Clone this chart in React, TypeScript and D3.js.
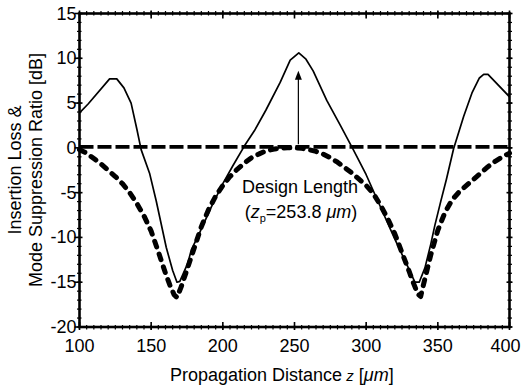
import React from 'react';
import * as d3 from 'd3';

// insertion loss (thick dashed curve)
const zLoss = [100, 105, 110, 115, 120, 125, 130, 135, 140, 145, 150, 155, 160, 163, 166, 168, 171, 175, 180, 185, 190, 195, 200, 205, 210, 215, 220, 225, 230, 235, 240, 245, 250, 255, 260, 265, 270, 275, 280, 285, 290, 295, 300, 305, 310, 315, 320, 325, 330, 333, 336, 338, 341, 345, 350, 355, 360, 365, 370, 375, 380, 385, 390, 395, 400];
const lossDb = [-0.2, -0.6, -1.2, -1.8, -2.5, -3.2, -4.0, -5.0, -6.2, -7.6, -9.3, -11.6, -14.0, -15.3, -16.4, -16.7, -15.5, -13.6, -11.2, -8.8, -6.9, -5.4, -4.2, -3.2, -2.4, -1.7, -1.1, -0.7, -0.35, -0.15, -0.05, 0, 0, -0.05, -0.2, -0.4, -0.7, -1.1, -1.6, -2.2, -2.8, -3.5, -4.2, -5.1, -6.4, -7.9, -9.6, -11.7, -13.8, -15.1, -16.3, -16.6, -14.6, -12.0, -9.2, -7.2, -5.8, -4.9, -4.2, -3.5, -2.8, -2.1, -1.5, -1.0, -0.6];

// mode suppression ratio (thin solid curve)
const zRatio = [100, 106, 121, 126, 131, 136, 140, 143, 149, 153.5, 157, 160.5, 165, 168, 170, 175.5, 178, 184, 192, 200, 207, 215, 222, 230, 240, 247, 253, 258, 263, 272.5, 282, 291, 300, 310, 320, 328, 334, 337, 341, 345, 348, 352, 356, 361, 368, 374, 379, 382, 385, 400];
const ratioDb = [3.9, 4.9, 7.7, 7.7, 6.7, 5.0, 2.1, -0.2, -2.9, -5.9, -8.5, -11.1, -13.7, -15.0, -14.9, -12.9, -11.4, -9.4, -6.6, -4.0, -2.0, 0.2, 1.9, 4.2, 7.3, 9.8, 10.6, 9.9, 8.6, 5.3, 2.5, -0.2, -3.0, -6.6, -10.2, -12.9, -15.0, -15.0, -13.4, -10.8, -8.6, -6.0, -3.5, -0.1, 3.5, 6.2, 7.8, 8.2, 8.2, 5.7];

// reference level (thick dashed horizontal)
const zRef = [100, 400];
const refDb = [0.1, 0.1];

const xTicks = [100, 150, 200, 250, 300, 350, 400];
const yTicks = [15, 10, 5, 0, -5, -10, -15, -20];
const designZ = 252.7;

const W = 523;
const H = 387;
const m = { left: 79.5, right: 509.5, top: 13.5, bottom: 327 };
const font = '"Liberation Sans", Arial, sans-serif';

export default function App() {
  const x = d3.scaleLinear().domain([100, 400]).range([m.left, m.right]);
  const y = d3.scaleLinear().domain([-20, 15]).range([m.bottom, m.top]);

  const line = d3.line<[number, number]>().x(d => x(d[0])).y(d => y(d[1]));
  const lossPath = line(zLoss.map((z, i) => [z, lossDb[i]]));
  const ratioPath = line(zRatio.map((z, i) => [z, ratioDb[i]]));
  const refPath = line(zRef.map((z, i) => [z, refDb[i]]));

  const xMinor = d3.range(100, 401, 5);
  const yMinor = d3.range(-20, 15.01, 1);

  const ax = x(designZ);
  const tipY = y(8.6);

  return (
    <svg width={W} height={H} style={{ position: 'absolute', left: 0, top: 0, background: '#fff' }} fontFamily={font}>
      {/* minor ticks */}
      <g stroke="#000" strokeWidth={1.2}>
        {xMinor.map(v => (
          <g key={'xm' + v}>
            <line x1={x(v)} x2={x(v)} y1={m.bottom - 2} y2={m.bottom + 2.5} />
            <line x1={x(v)} x2={x(v)} y1={m.top - 2.5} y2={m.top + 2} />
          </g>
        ))}
        {yMinor.map(v => (
          <g key={'ym' + v}>
            <line x1={m.left - 2.5} x2={m.left + 2} y1={y(v)} y2={y(v)} />
            <line x1={m.right - 2} x2={m.right + 2.5} y1={y(v)} y2={y(v)} />
          </g>
        ))}
      </g>
      {/* major ticks */}
      <g stroke="#000" strokeWidth={1.6}>
        {xTicks.map(v => (
          <g key={'xM' + v}>
            <line x1={x(v)} x2={x(v)} y1={m.bottom - 5} y2={m.bottom + 3} />
            <line x1={x(v)} x2={x(v)} y1={m.top - 3} y2={m.top + 5} />
          </g>
        ))}
        {yTicks.map(v => (
          <g key={'yM' + v}>
            <line x1={m.left - 5} x2={m.left + 3} y1={y(v)} y2={y(v)} />
            <line x1={m.right - 3} x2={m.right + 3} y1={y(v)} y2={y(v)} />
          </g>
        ))}
      </g>
      <rect x={m.left} y={m.top} width={m.right - m.left} height={m.bottom - m.top} fill="none" stroke="#000" strokeWidth={2.6} />

      {/* tick labels */}
      <g fontSize={18} fill="#000">
        {yTicks.map(v => (
          <text key={'yl' + v} x={m.left - 3} y={y(v)} textAnchor="end" dominantBaseline="central">{v}</text>
        ))}
        {xTicks.map((v, i) => (
          <text key={'xl' + v} x={x(v) - (i === xTicks.length - 1 ? 4 : 0)} y={352} textAnchor="middle">{v}</text>
        ))}
      </g>

      {/* curves */}
      <path d={refPath || ''} fill="none" stroke="#000" strokeWidth={3.8} strokeDasharray="14 4" />
      <path d={lossPath || ''} fill="none" stroke="#000" strokeWidth={5} strokeDasharray="6 7.5" strokeLinecap="round" strokeLinejoin="round" />
      <path d={ratioPath || ''} fill="none" stroke="#000" strokeWidth={1.7} strokeLinejoin="round" />

      {/* design length arrow */}
      <line x1={ax} x2={ax} y1={y(0.4)} y2={tipY + 6} stroke="#000" strokeWidth={1.2} />
      <path d={`M${ax},${tipY} L${ax - 3.5},${tipY + 9} L${ax + 3.5},${tipY + 9} Z`} fill="#000" />

      <g fontSize={18} fill="#000" textAnchor="middle">
        <text x={300} y={193}>Design Length</text>
        <text x={301} y={218}>
          (<tspan fontStyle="italic">z</tspan>
          <tspan fontSize={11} dy={4}>p</tspan>
          <tspan dy={-4}>=253.8 </tspan>
          <tspan fontStyle="italic">μm</tspan>)
        </text>
      </g>

      {/* axis titles */}
      <text x={170} y={381} fontSize={18} fill="#000">
        Propagation Distance
        <tspan fontStyle="italic" fontSize={15}> z</tspan>
        <tspan>{'  '}[</tspan>
        <tspan fontStyle="italic">μm</tspan>]
      </text>
      <g transform="translate(0,170) rotate(-90)" fontSize={18} fill="#000" textAnchor="middle">
        <text x={0} y={21}>Insertion Loss &amp;</text>
        <text x={0} y={42}>Mode Suppression Ratio [dB]</text>
      </g>
    </svg>
  );
}
